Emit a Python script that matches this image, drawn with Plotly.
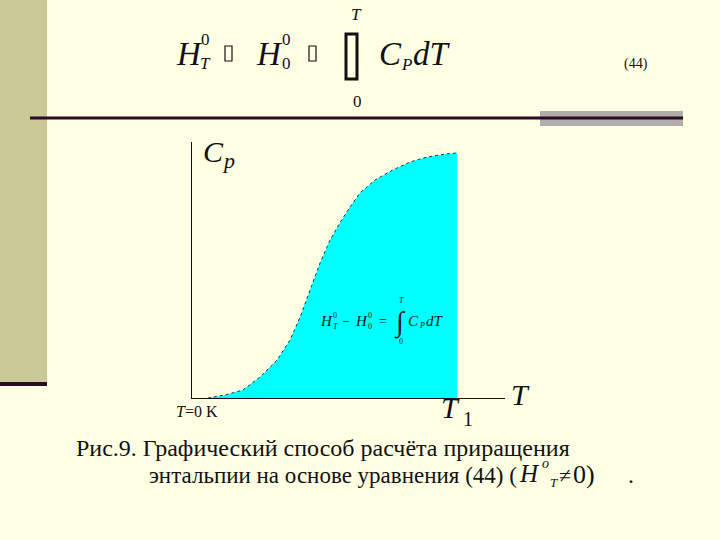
import plotly.graph_objects as go

# ---- data (T normalised so that T1 = 1, Cp in arbitrary units) ----
T_values = [0.060, 0.125, 0.192, 0.257, 0.321, 0.370, 0.408, 0.445, 0.483, 0.521,
            0.558, 0.596, 0.634, 0.691, 0.758, 0.823, 0.887, 0.955, 1.000]
Cp_values = [0.000, 0.012, 0.031, 0.082, 0.148, 0.227, 0.316, 0.422, 0.527, 0.617,
             0.684, 0.746, 0.801, 0.852, 0.891, 0.922, 0.941, 0.953, 0.957]
caption_line1 = "Рис.9. Графический способ расчёта приращения"
caption_line2 = "энтальпии на основе уравнения (44) ("

W, H = 720, 540
L, R, TOP, B = 192, 505, 142, 398  # plot area in pixels
SERIF = "Liberation Serif"
BG = "#FFFFE3"
DARK = "#2A0A24"


def P(px, py):
    return (px - L) / (R - L), (B - py) / (B - TOP)


fig = go.Figure()
fig.add_trace(go.Scatter(
    x=T_values, y=Cp_values, mode="lines", fill="tozeroy",
    fillcolor="#00FFFF", line=dict(color="#333333", width=1, dash="dot"),
    hoverinfo="skip", showlegend=False))

shapes = []


def rect_px(x0, y0, x1, y1, fill=None, line_color=None, lw=0):
    a0, b0 = P(x0, y0)
    a1, b1 = P(x1, y1)
    shapes.append(dict(type="rect", xref="paper", yref="paper", x0=a0, y0=b0, x1=a1, y1=b1,
                       fillcolor=fill if fill else "rgba(0,0,0,0)",
                       line=dict(color=line_color if line_color else "rgba(0,0,0,0)", width=lw),
                       layer="below" if fill else "above"))


def line_px(x0, y0, x1, y1, color, lw):
    a0, b0 = P(x0, y0)
    a1, b1 = P(x1, y1)
    shapes.append(dict(type="line", xref="paper", yref="paper", x0=a0, y0=b0, x1=a1, y1=b1,
                       line=dict(color=color, width=lw)))


# slide decoration
rect_px(0, 0, 47, 382, fill="#C9C897")
rect_px(0, 382, 47, 386, fill=DARK)
rect_px(540, 111, 683, 126, fill="#B0ADAA")
line_px(30, 118, 683, 118, DARK, 3)
# missing-glyph boxes in the header formula
rect_px(225, 46, 232, 61, line_color="#111111", lw=1.2)
rect_px(309, 46, 316, 61, line_color="#111111", lw=1.2)
rect_px(346, 34, 357, 79, line_color="#111111", lw=3)

ann = []


def txt(px, py, text, size, anchor="left", color="#111111"):
    a, b = P(px, py)
    ann.append(dict(xref="paper", yref="paper", x=a, y=b, text=text, showarrow=False,
                    xanchor=anchor, yanchor="middle",
                    font=dict(family=SERIF, size=size, color=color)))


# header formula
txt(174, 54, "<i>H</i>", 33)
txt(199, 39, "0", 17)
txt(198, 63, "<i>T</i>", 17)
txt(254, 54, "<i>H</i>", 33)
txt(280, 39, "0", 17)
txt(280, 63, "0", 17)
txt(356, 14, "<i>T</i>", 17, "center")
txt(357, 101, "0", 17, "center")
txt(377, 54, "<i>C</i>", 33)
txt(399, 64, "<i>P</i>", 17)
txt(411, 54, "<i>dT</i>", 33)
txt(636, 64, "(44)", 14, "center")

# axis labels
txt(201, 151, "<i>C</i>", 30)
txt(220, 160, "<i>p</i>", 22)
txt(174, 411, "<i>T</i>=0 K", 16)
txt(439, 407, "<i>T</i>", 30)
txt(461, 419, "1", 20)
txt(509, 394, "<i>T</i>", 30)

# formula inside the filled area
txt(318, 321, "<i>H</i>", 15)
txt(331, 315, "0", 8)
txt(331, 326, "<i>T</i>", 8)
txt(340, 321, "−", 13)
txt(353, 321, "<i>H</i>", 15)
txt(366, 315, "0", 8)
txt(366, 326, "0", 8)
txt(377, 321, "=", 14)
txt(400, 322, "∫", 28, "center")
txt(401, 300, "<i>T</i>", 8, "center")
txt(401, 341, "0", 8, "center")
txt(406, 321, "<i>C</i>", 15)
txt(417, 325, "<i>P</i>", 8)
txt(424, 321, "<i>dT</i>", 15)

# caption
txt(74, 448, caption_line1, 24)
txt(147, 475, caption_line2, 23)
txt(517, 473, "<i>H</i>", 25)
txt(540, 463, "<i>o</i>", 14)
txt(548, 482, "<i>T</i>", 13)
txt(557, 475, "≠", 22)
txt(571, 474, "0)", 26)
txt(626, 475, ".", 24)

fig.update_layout(
    width=W, height=H, margin=dict(l=L, r=W - R, t=TOP, b=H - B, pad=0),
    paper_bgcolor=BG, plot_bgcolor="rgba(0,0,0,0)",
    shapes=shapes, annotations=ann, showlegend=False,
    xaxis=dict(range=[0, (R - L) / 265], showgrid=False, zeroline=False, showticklabels=False,
               ticks="", showline=True, linecolor="#111111", linewidth=1, fixedrange=True),
    yaxis=dict(range=[0, 1], showgrid=False, zeroline=False, showticklabels=False,
               ticks="", showline=True, linecolor="#111111", linewidth=1, fixedrange=True),
)

fig.write_html("out.html", config={"displayModeBar": False},
               post_script="document.body.style.margin='0';document.body.style.padding='0';")
